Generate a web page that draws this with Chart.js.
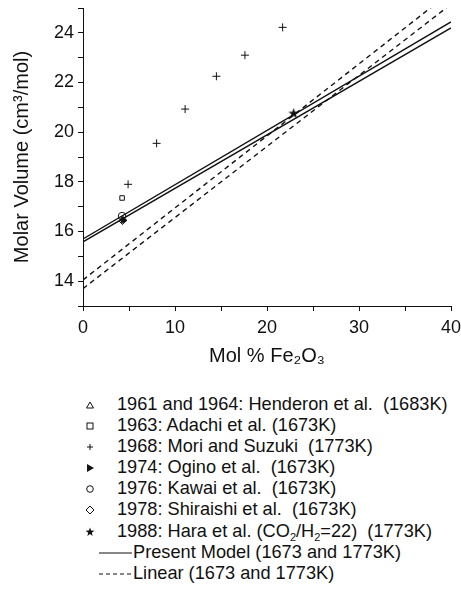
<!DOCTYPE html>
<html>
<head>
<meta charset="utf-8">
<script src="https://cdn.jsdelivr.net/npm/chart.js@4/dist/chart.umd.min.js"></script>
<style>
  body { margin: 0; background: #fff; font-family: "Liberation Sans", Arial, sans-serif; }
  #wrap { position: relative; width: 461px; height: 596px; }
  #box { position: absolute; left: 0; top: 0; width: 461px; height: 372px; }
  #legend { position: absolute; left: 0; top: 394px; width: 461px; color: #111; font-size: 18.2px; }
  .row { position: relative; height: 21.1px; line-height: 21.1px; white-space: pre; }
  .row svg { position: absolute; top: 0; }
  .row span { position: absolute; left: 117px; }
  .row.ln span { left: 133px; }
  sub { font-size: 11px; vertical-align: -4px; line-height: 0; }
</style>
</head>
<body>
<div id="wrap">
  <div id="box"><canvas id="chart"></canvas></div>
  <div id="legend"></div>
</div>
<script>
// values
const lineX = [0, 40]
const modelA = [15.58, 24.2]
const modelB = [15.7, 24.44]
const linearA = [13.7, 25.15]
const linearB = [14.05, 25.65]

const moriX = [4.9, 8.0, 11.1, 14.5, 17.6, 21.7]
const moriY = [17.9, 19.55, 20.93, 22.25, 23.1, 24.22]
const adachiX = [4.25]
const adachiY = [17.35]
const hendersonX = [4.3]
const hendersonY = [16.5]
const oginoX = [4.4]
const oginoY = [16.45]
const kawaiX = [4.25]
const kawaiY = [16.62]
const shiraishiX = [4.3]
const shiraishiY = [16.42]
const haraX = [22.9]
const haraY = [20.77]

function pts(xs, ys) {
  return xs.map((x, i) => ({ x: x, y: ys[i] }))
}

function starImage(size) {
  let c = document.createElement('canvas')
  c.width = size
  c.height = size
  let ctx = c.getContext('2d')
  let r = size / 2, ri = r * 0.42
  ctx.beginPath()
  for (let i = 0; i < 10; i++) {
    let a = -Math.PI / 2 + i * Math.PI / 5
    let rr = i % 2 ? ri : r
    ctx.lineTo(r + rr * Math.cos(a), r + 0.5 + rr * Math.sin(a))
  }
  ctx.closePath()
  ctx.fillStyle = '#111'
  ctx.fill()
  return c
}

const black = '#111'

function lineSet(ys, dash) {
  return {
    data: pts(lineX, ys),
    borderColor: black,
    borderWidth: 1.4,
    borderDash: dash,
    pointRadius: 0,
    fill: false,
    tension: 0
  }
}

function pointSet(xs, ys, style, radius, filled, rotation) {
  return {
    data: pts(xs, ys),
    showLine: false,
    pointStyle: style,
    pointRadius: radius,
    pointRotation: rotation || 0,
    pointBorderColor: black,
    pointBackgroundColor: filled ? black : 'rgba(0,0,0,0)',
    pointBorderWidth: 1
  }
}

const tickFont = { family: 'Liberation Sans', size: 18 }
const titleFont = { family: 'Liberation Sans', size: 20 }

new Chart(document.getElementById('chart'), {
  type: 'line',
  data: {
    datasets: [
      lineSet(modelA, []),
      lineSet(modelB, []),
      lineSet(linearA, [5, 4]),
      lineSet(linearB, [5, 4]),
      pointSet(moriX, moriY, 'cross', 4, false),
      pointSet(adachiX, adachiY, 'rect', 3.2, false),
      pointSet(hendersonX, hendersonY, 'triangle', 3.5, false),
      pointSet(shiraishiX, shiraishiY, 'rectRot', 3.5, false),
      pointSet(oginoX, oginoY, 'triangle', 3.5, true, 90),
      pointSet(kawaiX, kawaiY, 'circle', 3.8, false),
      pointSet(haraX, haraY, starImage(11), 5, true)
    ]
  },
  options: {
    animation: false,
    responsive: true,
    maintainAspectRatio: false,
    layout: { padding: { top: 8, right: 0 } },
    plugins: {
      legend: { display: false },
      tooltip: { enabled: false }
    },
    scales: {
      x: {
        type: 'linear',
        min: 0,
        max: 40,
        afterFit: (s) => { s.height = 66; s.paddingRight = 10 },
        border: { color: black, width: 1 },
        grid: { drawOnChartArea: false, tickLength: 5, color: black },
        ticks: {
          stepSize: 5,
          autoSkip: false,
          color: black,
          font: tickFont,
          maxRotation: 0,
          padding: 6,
          callback: (v) => (v % 10 === 0 ? String(v) : '')
        },
        title: {
          display: true,
          text: 'Mol % Fe\u2082O\u2083',
          color: black,
          font: titleFont,
          padding: { top: 0 }
        }
      },
      y: {
        type: 'linear',
        min: 13,
        max: 25,
        afterFit: (s) => { s.width = 83; s.paddingTop = 0; s.paddingBottom = 0 },
        border: { color: black, width: 1 },
        grid: { drawOnChartArea: false, tickLength: 5, color: black },
        ticks: {
          stepSize: 1,
          autoSkip: false,
          color: black,
          font: tickFont,
          padding: 4,
          callback: (v) => (v % 2 === 0 ? String(v) : '')
        },
        title: {
          display: true,
          text: 'Molar Volume (cm\u00b3/mol)',
          color: black,
          font: titleFont,
          padding: { top: 10, bottom: 0 }
        }
      }
    }
  }
})

// legend below the chart
const legendItems = [
  { icon: '<polygon points="5,2 8.5,8 1.5,8" fill="none" stroke="#111" stroke-width="1"/>', text: '1961 and 1964: Henderon et al.  (1683K)' },
  { icon: '<rect x="2" y="2" width="6" height="6" fill="none" stroke="#111" stroke-width="1"/>', text: '1963: Adachi et al. (1673K)' },
  { icon: '<path d="M5 2 V8 M2 5 H8" stroke="#111" stroke-width="1"/>', text: '1968: Mori and Suzuki  (1773K)' },
  { icon: '<polygon points="2,1 9,5 2,9" fill="#111"/>', text: '1974: Ogino et al.  (1673K)' },
  { icon: '<circle cx="5" cy="5" r="3.3" fill="none" stroke="#111" stroke-width="1"/>', text: '1976: Kawai et al.  (1673K)' },
  { icon: '<polygon points="5,1 9,5 5,9 1,5" fill="none" stroke="#111" stroke-width="1"/>', text: '1978: Shiraishi et al.  (1673K)' },
  { icon: '<polygon points="5,0.5 6.1,3.6 9.4,3.7 6.8,5.7 7.7,8.9 5,7 2.3,8.9 3.2,5.7 0.6,3.7 3.9,3.6" fill="#111"/>', text: '1988: Hara et al. (CO<sub>2</sub>/H<sub>2</sub>=22)  (1773K)' }
]

let html = ''
for (let it of legendItems) {
  html += '<div class="row"><svg width="10" height="10" style="left:85px;top:6px" viewBox="0 0 10 10">' +
    it.icon + '</svg><span>' + it.text + '</span></div>'
}
html += '<div class="row ln"><svg width="34" height="4" style="left:99px;top:9px"><line x1="0" y1="2" x2="33" y2="2" stroke="#111" stroke-width="1.2"/></svg><span>Present Model (1673 and 1773K)</span></div>'
html += '<div class="row ln"><svg width="34" height="4" style="left:99px;top:9px"><line x1="0" y1="2" x2="33" y2="2" stroke="#111" stroke-width="1.2" stroke-dasharray="4,3"/></svg><span>Linear (1673 and 1773K)</span></div>'
document.getElementById('legend').innerHTML = html
</script>
</body>
</html>
